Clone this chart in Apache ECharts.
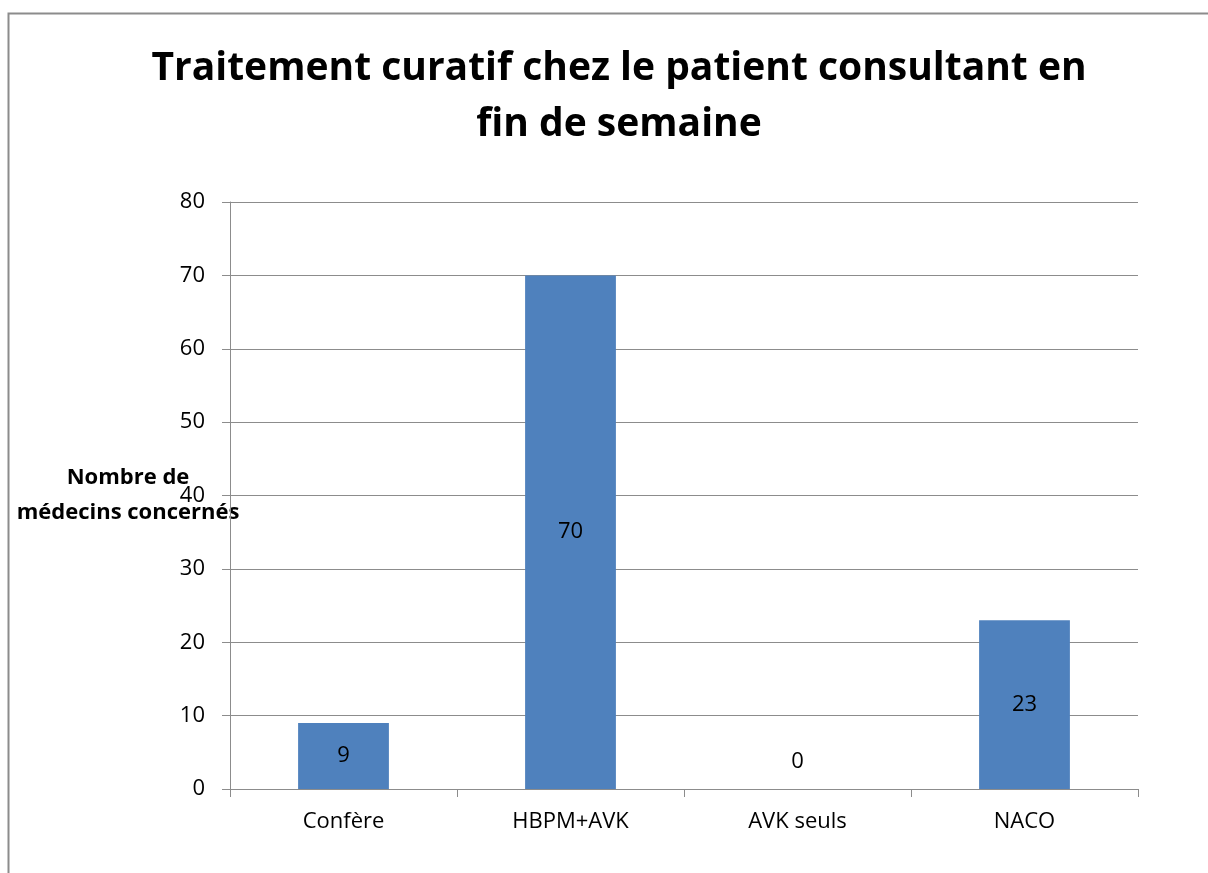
<!DOCTYPE html>
<html>
<head>
<meta charset="utf-8">
<script src="https://cdn.jsdelivr.net/npm/echarts@6/dist/echarts.min.js"></script>
<style>
  html, body { margin: 0; padding: 0; background: #fff; }
  #container { width: 1208px; height: 873px; }
</style>
</head>
<body>
<div id="container"></div>
<script>
  // données
  var categories = ['Confère', 'HBPM+AVK', 'AVK seuls', 'NACO'];
  var values = [9, 70, 0, 23];
  var yTicks = { min: 0, max: 80, interval: 10 };

  var font = '"Open Sans", "Noto Sans", sans-serif';
  var gray = '#8c8c8c';

  var dom = document.getElementById('container');
  var myChart = echarts.init(dom);

  var barData = values.map(function (v) {
    if (v === 0) {
      // barre vide : étiquette posée au-dessus de l'axe
      return { value: v, label: { position: 'top', distance: 16 } };
    }
    return v;
  });

  var option = {
    backgroundColor: '#fff',
    animation: false,
    title: {
      text: 'Traitement curatif chez le patient consultant en\nfin de semaine',
      left: 614,
      textAlign: 'center',
      top: 36,
      textStyle: {
        fontFamily: font,
        fontWeight: 'bold',
        fontSize: 39,
        lineHeight: 56,
        color: '#000'
      }
    },
    graphic: [{
      type: 'rect',
      shape: { x: 8.5, y: 13.5, width: 1300, height: 1000 },
      style: { fill: 'none', stroke: gray, lineWidth: 2 },
      silent: true
    }],
    grid: { left: 230, right: 70, top: 202, bottom: 84 },
    xAxis: {
      type: 'category',
      data: categories,
      boundaryGap: true,
      axisLine: { lineStyle: { color: gray, width: 1 } },
      axisTick: { show: true, interval: 0, length: 8, lineStyle: { color: gray } },
      axisLabel: { color: '#000', fontFamily: font, fontSize: 22, margin: 22 }
    },
    yAxis: {
      type: 'value',
      min: yTicks.min,
      max: yTicks.max,
      interval: yTicks.interval,
      name: 'Nombre de\nmédecins concernés',
      nameLocation: 'middle',
      nameRotate: 0,
      nameGap: 102,
      nameMoveOverlap: false,
      nameTextStyle: {
        color: '#000',
        fontFamily: font,
        fontWeight: 'bold',
        fontSize: 22,
        lineHeight: 35,
        align: 'center',
        verticalAlign: 'middle'
      },
      axisLine: { show: true, lineStyle: { color: gray, width: 1 } },
      axisTick: { show: true, length: 8, lineStyle: { color: gray } },
      axisLabel: { color: '#000', fontFamily: font, fontSize: 22, margin: 25 },
      splitLine: { show: true, lineStyle: { color: gray, width: 1 } }
    },
    series: [{
      type: 'bar',
      data: barData,
      barWidth: '40%',
      itemStyle: { color: '#4f81bd' },
      label: {
        show: true,
        position: 'inside',
        color: '#000',
        fontFamily: font,
        fontSize: 22
      }
    }]
  };

  myChart.setOption(option);
</script>
</body>
</html>
